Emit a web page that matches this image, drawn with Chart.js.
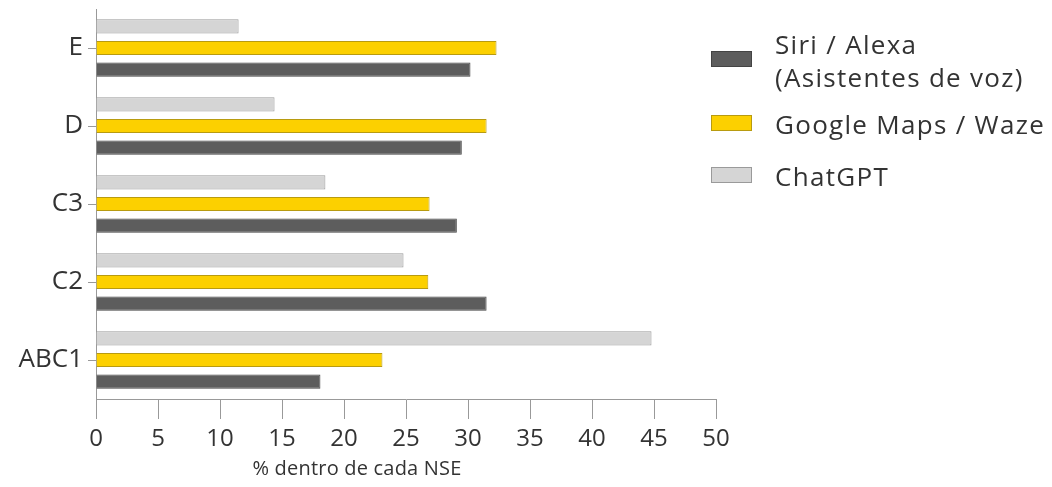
<!DOCTYPE html>
<html>
<head>
<meta charset="utf-8">
<script src="https://cdn.jsdelivr.net/npm/chart.js@4.4.0/dist/chart.umd.min.js"></script>
<style>
  html, body { margin: 0; padding: 0; background: #fff; }
  #wrap { position: relative; width: 1052px; height: 487px; }
  #legend { position: absolute; left: 711px; top: 28px; font-family: "Open Sans", sans-serif; font-size: 26px; letter-spacing: 1.3px; color: #333; }
  .item { position: absolute; left: 0; white-space: nowrap; }
  .box { position: absolute; left: 0; width: 41px; height: 16px; box-sizing: border-box; border: 1px solid; }
  .txt { position: absolute; left: 64px; line-height: 33px; }
  #xtitle { position: absolute; left: 157px; width: 400px; top: 454px; text-align: center; font-family: "Open Sans", sans-serif; font-size: 20px; letter-spacing: 0.2px; line-height: 28px; color: #333; }
</style>
</head>
<body>
<div id="wrap">
  <canvas id="myChart" width="1052" height="487"></canvas>
  <div id="legend"></div>
  <div id="xtitle"></div>
</div>
<script>
// NSE groups, top to bottom
const labels = ['E', 'D', 'C3', 'C2', 'ABC1'];

const chatgpt = [11.5, 14.4, 18.5, 24.8, 44.8];
const google = [32.3, 31.5, 26.9, 26.8, 23.1];
const siri = [30.2, 29.5, 29.1, 31.5, 18.1];

const xTicks = [0, 5, 10, 15, 20, 25, 30, 35, 40, 45, 50];
const xTitle = '% dentro de cada NSE';

const fontFam = '"Open Sans", sans-serif';

const data = {
  labels: labels,
  datasets: [
    { label: 'ChatGPT', data: chatgpt, backgroundColor: '#d5d5d5', borderColor: '#9a9a9a', borderWidth: 1 },
    { label: 'Google Maps / Waze', data: google, backgroundColor: '#fcd000', borderColor: '#b89b10', borderWidth: 1 },
    { label: ['Siri / Alexa', '(Asistentes de voz)'], data: siri, backgroundColor: '#5d5d5d', borderColor: '#444', borderWidth: 1 }
  ]
};

const config = {
  type: 'bar',
  data: data,
  options: {
    indexAxis: 'y',
    responsive: false,
    animation: false,
    categoryPercentage: 0.83,
    barPercentage: 0.66,
    layout: { padding: { top: 9, right: 336, left: 8, bottom: 36 } },
    plugins: { legend: { display: false }, tooltip: { enabled: false } },
    scales: {
      x: {
        min: 0, max: 50,
        afterBuildTicks: (axis) => { axis.ticks = xTicks.map(v => ({ value: v })); },
        afterFit: (axis) => { axis.height = 52; },
        grid: { drawOnChartArea: false, drawTicks: true, tickLength: 20, color: '#999', lineWidth: 1 },
        border: { display: true, color: '#999', width: 1 },
        ticks: { color: '#333', font: { family: fontFam, size: 24 }, padding: 6, maxRotation: 0 }
      },
      y: {
        afterFit: (axis) => {
          axis.width = 88;
          axis.paddingTop = 0;
          axis.paddingBottom = 0;
        },
        grid: { offset: false, drawOnChartArea: false, drawTicks: true, tickLength: 8, color: '#999', lineWidth: 1 },
        border: { display: true, color: '#999', width: 1 },
        ticks: { color: '#333', font: { family: fontFam, size: 26 }, padding: 5 }
      }
    }
  }
};

const myChart = new Chart(document.getElementById('myChart'), config);

document.getElementById('xtitle').textContent = xTitle;

// legend on the right, order reversed (Siri first)
const legend = document.getElementById('legend');
const tops = [0, 80, 132];
myChart.data.datasets.slice().reverse().forEach((ds, i) => {
  const item = document.createElement('div');
  item.className = 'item';
  item.style.top = tops[i] + 'px';
  const lines = Array.isArray(ds.label) ? ds.label : [ds.label];
  const box = document.createElement('div');
  box.className = 'box';
  box.style.background = ds.backgroundColor;
  box.style.borderColor = ds.borderColor;
  box.style.top = (lines.length > 1 ? 23 : 7) + 'px';
  const txt = document.createElement('div');
  txt.className = 'txt';
  txt.innerHTML = lines.join('<br>');
  item.appendChild(box);
  item.appendChild(txt);
  legend.appendChild(item);
});
</script>
</body>
</html>
